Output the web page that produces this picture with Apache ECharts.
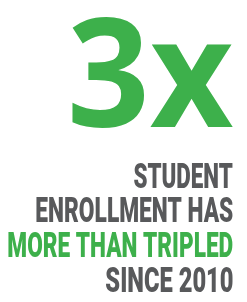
<!DOCTYPE html>
<html><head><meta charset="utf-8">
<script src="https://cdn.jsdelivr.net/npm/echarts@6/dist/echarts.min.js"></script>
<style>html,body{margin:0;padding:0;background:#fff}#c{width:247px;height:302px}</style>
</head><body><div id="c"></div>
<script>
const headline = '3x';
const lines = ['STUDENT', 'ENROLLMENT HAS', 'MORE THAN TRIPLED', 'SINCE 2010'];
const highlighted = [false, false, true, false];

const GREEN = '#3db04b', GRAY = '#58595b';
const ctx = document.createElement('canvas').getContext('2d');
ctx.textBaseline = 'middle';
ctx.textAlign = 'right';

// fit text ink into a box [left, right, top, bottom]; vertical extent taken from refGlyph
function fitText(text, font, box, fill, refGlyph) {
  ctx.font = font;
  const m = ctx.measureText(text);
  const v = ctx.measureText(refGlyph || text);
  const sx = (box[1] - box[0]) / (m.actualBoundingBoxLeft + m.actualBoundingBoxRight);
  const sy = (box[3] - box[2]) / (v.actualBoundingBoxAscent + v.actualBoundingBoxDescent);
  return {
    type: 'text',
    x: box[1] - m.actualBoundingBoxRight * sx,
    y: box[2] + v.actualBoundingBoxAscent * sy,
    scaleX: sx, scaleY: sy,
    style: {text: text, fill: fill, font: font, align: 'right', verticalAlign: 'middle'}
  };
}

const chart = echarts.init(document.getElementById('c'), null, {renderer: 'canvas'});
const elems = [fitText(headline, 'bold 146px "Open Sans"', [72, 233, 18, 128], GREEN)];
const lefts = [134, 36, 8, 106];
lines.forEach((t, i) => {
  const top = 162 + i * 34.7;
  elems.push(fitText(t, '900 36px Roboto', [lefts[i], 233, top, top + 25.5], highlighted[i] ? GREEN : GRAY, 'H'));
});
chart.setOption({animation: false, graphic: {elements: elems}});
</script></body></html>
